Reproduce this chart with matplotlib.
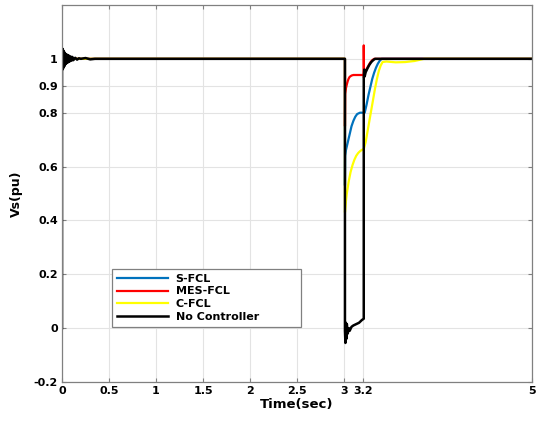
import matplotlib
matplotlib.use('Agg')
import matplotlib.pyplot as plt
import matplotlib as mpl

mpl.rcParams['font.family'] = 'DejaVu Sans'
mpl.rcParams['font.weight'] = 'bold'

# values
t_sfcl = [0, 3.01, 3.01, 3.012, 3.02, 3.04, 3.06, 3.08, 3.1, 3.12, 3.14, 3.17, 3.21,
          3.22, 3.24, 3.26, 3.28, 3.30, 3.32, 3.34, 3.36, 3.38, 3.40, 5]
v_sfcl = [1, 1, 0.53, 0.64, 0.66, 0.69, 0.72, 0.75, 0.77, 0.785, 0.795, 0.80, 0.80,
          0.80, 0.83, 0.865, 0.895, 0.925, 0.948, 0.967, 0.982, 0.993, 1.0, 1.0]

t_mes = [0, 3.01, 3.01, 3.012, 3.02, 3.03, 3.04, 3.05, 3.06, 3.08, 3.1, 3.15, 3.21,
         3.21, 3.212, 3.215, 3.22, 3.24, 3.26, 3.28, 3.30, 3.32, 5]
v_mes = [1, 1, 0.75, 0.87, 0.89, 0.905, 0.918, 0.927, 0.933, 0.938, 0.94, 0.94, 0.94,
         1.05, 0.93, 0.955, 0.95, 0.962, 0.975, 0.987, 0.995, 1.0, 1.0]

t_cfcl = [0, 3.01, 3.01, 3.02, 3.03, 3.05, 3.07, 3.09, 3.11, 3.13, 3.15, 3.17, 3.19,
          3.21, 3.23, 3.25, 3.27, 3.29, 3.31, 3.33, 3.35, 3.37, 3.39, 3.41, 3.45,
          3.55, 3.65, 3.75, 3.85, 5]
v_cfcl = [1, 1, 0.43, 0.47, 0.50, 0.545, 0.58, 0.605, 0.625, 0.64, 0.65, 0.657, 0.662,
          0.665, 0.69, 0.73, 0.77, 0.81, 0.85, 0.89, 0.925, 0.955, 0.975, 0.988, 0.99,
          0.987, 0.988, 0.992, 1.0, 1.0]

t_nc = [0, 0, 0.004, 0.008, 0.012, 0.016, 0.02, 0.024, 0.028, 0.032, 0.036, 0.04,
        0.048, 0.056, 0.064, 0.072, 0.08, 0.09, 0.10, 0.11, 0.12, 0.14, 0.16, 0.18,
        0.2, 0.25, 0.3, 0.35, 3.01, 3.01, 3.015, 3.02, 3.025, 3.03, 3.04, 3.05, 3.06,
        3.08, 3.1, 3.13, 3.16, 3.19, 3.21, 3.21, 3.215, 3.22, 3.23, 3.25, 3.27, 3.29,
        3.31, 3.33, 5.0]
v_nc = [0, 1.04, 0.96, 1.035, 0.965, 1.03, 0.97, 1.025, 0.975, 1.02, 0.98, 1.018,
        0.984, 1.015, 0.987, 1.012, 0.99, 1.009, 0.993, 1.007, 0.995, 1.004, 0.997,
        1.002, 1.0, 1.003, 0.998, 1.0, 1.0, -0.01, -0.055, 0.02, -0.04, 0.015, -0.02,
        0.0, -0.01, 0.005, 0.01, 0.015, 0.02, 0.03, 0.035, 0.93, 0.96, 0.935, 0.95,
        0.965, 0.978, 0.988, 0.995, 1.0, 1.0]

x_ticks = [0, 0.5, 1, 1.5, 2, 2.5, 3, 3.2, 5]
x_labels = ['0', '0.5', '1', '1.5', '2', '2.5', '3', '3.2', '5']
y_ticks = [-0.2, 0, 0.2, 0.4, 0.6, 0.8, 0.9, 1]
y_labels = ['-0.2', '0', '0.2', '0.4', '0.6', '0.8', '0.9', '1']

fig = plt.figure(figsize=(5.37, 4.22), dpi=100)
ax = fig.add_axes([0.1155, 0.0948, 0.8752, 0.8934])

ax.plot(t_sfcl, v_sfcl, color='#0072BD', lw=1.6, label='S-FCL')
ax.plot(t_mes, v_mes, color='#FF0000', lw=1.6, label='MES-FCL')
ax.plot(t_cfcl, v_cfcl, color='#FFFF00', lw=1.6, label='C-FCL')
ax.plot(t_nc, v_nc, color='black', lw=1.8, label='No Controller')

ax.set_xlim(0, 5)
ax.set_ylim(-0.2, 1.2)
ax.set_xticks(x_ticks)
ax.set_xticklabels(x_labels)
ax.set_yticks(y_ticks)
ax.set_yticklabels(y_labels)
ax.tick_params(axis='both', direction='in', length=3, labelsize=8, color='#808080',
               top=True, right=True, pad=3)
ax.grid(True, color='#e3e3e3', lw=0.8)
for s in ax.spines.values():
    s.set_color('#808080')
    s.set_linewidth(0.9)

ax.set_xlabel('Time(sec)', fontsize=9.5, fontweight='bold', labelpad=1)
ax.set_ylabel('Vs(pu)', fontsize=9, fontweight='bold', labelpad=8)

# legend box stretched to the width seen in the reference
leg = ax.legend(loc='lower left', bbox_to_anchor=(0.106, 0.146, 0.403, 0.146),
                mode='expand', borderaxespad=0,
                fontsize=8, fancybox=False, edgecolor='#808080', framealpha=1,
                handlelength=4.6, labelspacing=0.25, borderpad=0.45, handletextpad=0.7)
leg.get_frame().set_linewidth(0.9)

fig.savefig('out.png', dpi=100)
